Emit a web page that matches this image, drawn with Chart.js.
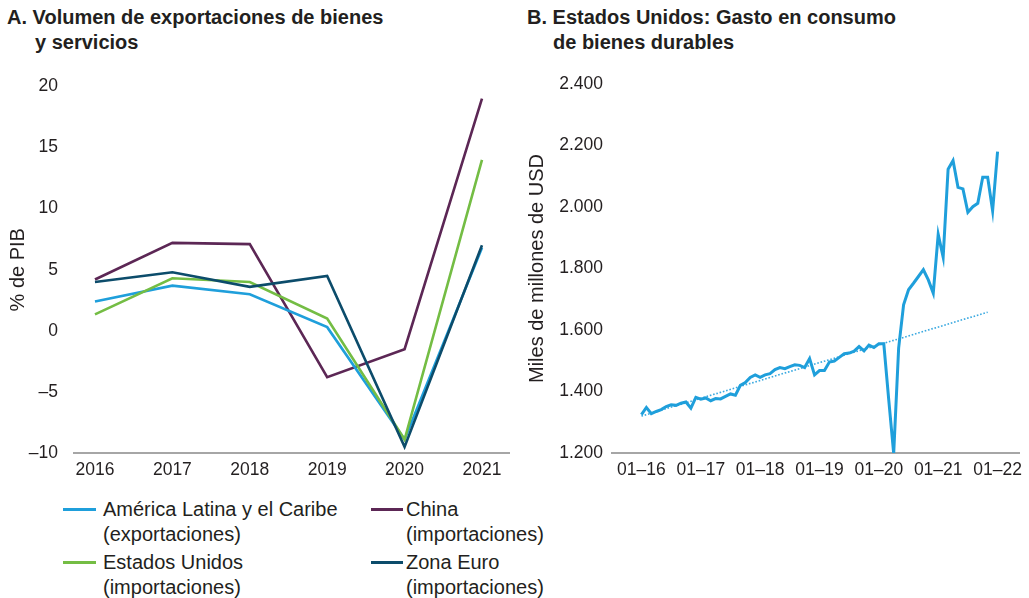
<!DOCTYPE html>
<html>
<head>
<meta charset="utf-8">
<script src="https://cdn.jsdelivr.net/npm/chart.js@4.4.1/dist/chart.umd.min.js"></script>
<style>
  body { margin:0; width:1029px; height:598px; background:#fff; position:relative; overflow:hidden;
         font-family:"Liberation Sans", Arial, sans-serif; color:#231f20; }
  .title { position:absolute; font-weight:bold; font-size:20px; line-height:25px; }
  .title span { display:block; }
  #boxA { position:absolute; left:0; top:60px; width:515px; height:420px; }
  #boxB { position:absolute; left:515px; top:60px; width:514px; height:420px; }
  #legend { position:absolute; left:0; top:497px; font-size:20px; line-height:24.5px; }
  .item { position:absolute; white-space:nowrap; }
  .sw { position:absolute; height:3px; }
</style>
</head>
<body>
<div class="title" style="left:7px;top:5px;"><span>A. Volumen de exportaciones de bienes</span><span style="margin-left:28px">y servicios</span></div>
<div class="title" style="left:527px;top:5px;"><span>B. Estados Unidos: Gasto en consumo</span><span style="margin-left:26px">de bienes durables</span></div>
<div id="boxA"><canvas id="chartA"></canvas></div>
<div id="boxB"><canvas id="chartB"></canvas></div>
<div id="legend"></div>
<script>
/* --------------------------
   PANEL A DATA
--------------------------- */
const years = [2016, 2017, 2018, 2019, 2020, 2021];
const seriesNames = ["América Latina y el Caribe", "Estados Unidos", "China", "Zona Euro"];
const seriesNotes = ["(exportaciones)", "(importaciones)", "(importaciones)", "(importaciones)"];
const latamValues = [2.4, 3.7, 3.0, 0.3, -8.9, 6.8];
const usaValues   = [1.35, 4.3, 4.0, 1.0, -8.9, 14.0];
const chinaValues = [4.2, 7.2, 7.1, -3.8, -1.5, 19.0];
const euroValues  = [4.0, 4.8, 3.6, 4.5, -9.5, 7.0];
const yTicksA = [-10, -5, 0, 5, 10, 15, 20];

/* --------------------------
   PANEL B DATA
--------------------------- */
const monthTickLabels = ["01–16", "01–17", "01–18", "01–19", "01–20", "01–21", "01–22"];
const durables = [
  1325, 1348, 1328, 1335, 1341, 1351, 1357, 1355, 1362, 1366, 1346, 1381,
  1375, 1379, 1370, 1377, 1376, 1384, 1392, 1388, 1420, 1429, 1446, 1454,
  1446, 1454, 1458, 1471, 1478, 1474, 1481, 1487, 1485, 1478, 1507, 1454,
  1468, 1468, 1496, 1499, 1511, 1523, 1525, 1531, 1546, 1532, 1551, 1543,
  1555, 1555, 1373, 1198, 1541, 1682, 1731, 1752, 1774, 1796, 1763, 1720,
  1911, 1837, 2123, 2151, 2064, 2059, 1983, 2001, 2012, 2097, 2097, 1988,
  2180
];
const trendMonths = [0, 70];
const trendValues = [1320, 1658];
const yTicksB = [1200, 1400, 1600, 1800, 2000, 2200, 2400];

const colors = ["#1f9fdb", "#74bd44", "#5c2755", "#0c4c6b"];
const axisGray = "#a6a6a6";
const textColor = "#231f20";
const tickFont = { family: "'Liberation Sans', Arial, sans-serif", size: 17.5 };
const titleFont = { family: "'Liberation Sans', Arial, sans-serif", size: 20 };

Chart.defaults.color = textColor;
Chart.defaults.animation = false;

function minusDash(v){ return v < 0 ? "–" + Math.abs(v) : String(v); }
function thousands(v){ return String(v).replace(/\B(?=(\d{3})+(?!\d))/g, "."); }

/* --------------------------
   CHART A
--------------------------- */
const seriesA = [latamValues, usaValues, chinaValues, euroValues];
const orderA = [2, 1, 3, 0];
new Chart(document.getElementById("chartA"), {
    type: "line",
    data: {
        datasets: seriesA.map(function(vals, k){
            return {
                label: seriesNames[k],
                data: vals.map(function(v, i){ return { x: years[i], y: v }; }),
                borderColor: colors[k],
                borderWidth: 2.6,
                pointRadius: 0,
                tension: 0,
                order: orderA[k]
            };
        })
    },
    options: {
        responsive: true,
        maintainAspectRatio: false,
        layout: { padding: { top: 24, right: 6, bottom: 0, left: 0 } },
        plugins: { legend: { display: false }, tooltip: { enabled: false } },
        scales: {
            x: {
                type: "linear",
                min: 2015.729,
                max: 2021.349,
                afterBuildTicks: function(axis){ axis.ticks = years.map(function(v){ return { value: v }; }); },
                afterFit: function(axis){ axis.height = 27; },
                grid: { display: false, drawTicks: false },
                border: { display: true, color: axisGray, width: 2 },
                ticks: { font: tickFont, color: textColor, padding: 7, autoSkip: false, maxRotation: 0,
                          callback: function(v){ return String(v); } }
            },
            y: {
                min: -10,
                max: 20,
                afterBuildTicks: function(axis){ axis.ticks = yTicksA.map(function(v){ return { value: v }; }); },
                afterFit: function(axis){ axis.width = 74; },
                grid: { display: false, drawTicks: false },
                border: { display: false },
                ticks: { font: tickFont, color: textColor, padding: 16, callback: minusDash },
                title: { display: true, text: "% de PIB", font: titleFont, color: textColor, padding: { top: 6, bottom: 0 } }
            }
        }
    }
});

/* --------------------------
   CHART B
--------------------------- */
new Chart(document.getElementById("chartB"), {
    type: "line",
    data: {
        datasets: [{
            label: "Gasto en consumo de bienes durables",
            data: durables.map(function(v, i){ return { x: i, y: v }; }),
            borderColor: colors[0],
            borderWidth: 3,
            pointRadius: 0,
            tension: 0,
            order: 0
        }, {
            label: "Tendencia",
            data: trendValues.map(function(v, i){ return { x: trendMonths[i], y: v }; }),
            borderColor: "#3aa9e0",
            borderWidth: 1.6,
            borderDash: [1.6, 1.8],
            pointRadius: 0,
            tension: 0,
            order: 1
        }]
    },
    options: {
        responsive: true,
        maintainAspectRatio: false,
        layout: { padding: { top: 24, right: 2, bottom: 0, left: 0 } },
        plugins: { legend: { display: false }, tooltip: { enabled: false } },
        scales: {
            x: {
                type: "linear",
                min: -5.95,
                max: 76.36,
                afterBuildTicks: function(axis){ axis.ticks = monthTickLabels.map(function(l, k){ return { value: k * 12 }; }); },
                afterFit: function(axis){ axis.height = 27; },
                grid: { display: false, drawTicks: false },
                border: { display: true, color: axisGray, width: 2 },
                ticks: { font: tickFont, color: textColor, padding: 7, autoSkip: false, maxRotation: 0,
                          callback: function(v){ return monthTickLabels[Math.round(v / 12)]; } }
            },
            y: {
                min: 1200,
                max: 2400,
                afterBuildTicks: function(axis){ axis.ticks = yTicksB.map(function(v){ return { value: v }; }); },
                afterFit: function(axis){ axis.width = 97; },
                grid: { display: false, drawTicks: false },
                border: { display: false },
                ticks: { font: tickFont, color: textColor, padding: 9, callback: thousands },
                title: { display: true, text: "Miles de millones de USD", font: titleFont, color: textColor, padding: { top: 10, bottom: 0 } }
            }
        }
    }
});

/* --------------------------
   LEGEND
--------------------------- */
const legendPos = [[63, 0], [63, 53], [371, 0], [371, 53]];
const legend = document.getElementById("legend");
seriesNames.forEach(function(name, k){
    const sw = document.createElement("div");
    sw.className = "sw";
    sw.style.left = legendPos[k][0] + "px";
    sw.style.width = (k < 2 ? 33 : 32) + "px";
    sw.style.top = (legendPos[k][1] + 11) + "px";
    sw.style.background = colors[k];
    legend.appendChild(sw);
    const it = document.createElement("div");
    it.className = "item";
    it.style.left = (legendPos[k][0] + (k < 2 ? 40 : 35)) + "px";
    it.style.top = legendPos[k][1] + "px";
    it.innerHTML = name + "<br>" + seriesNotes[k];
    legend.appendChild(it);
});
</script>
</body>
</html>
